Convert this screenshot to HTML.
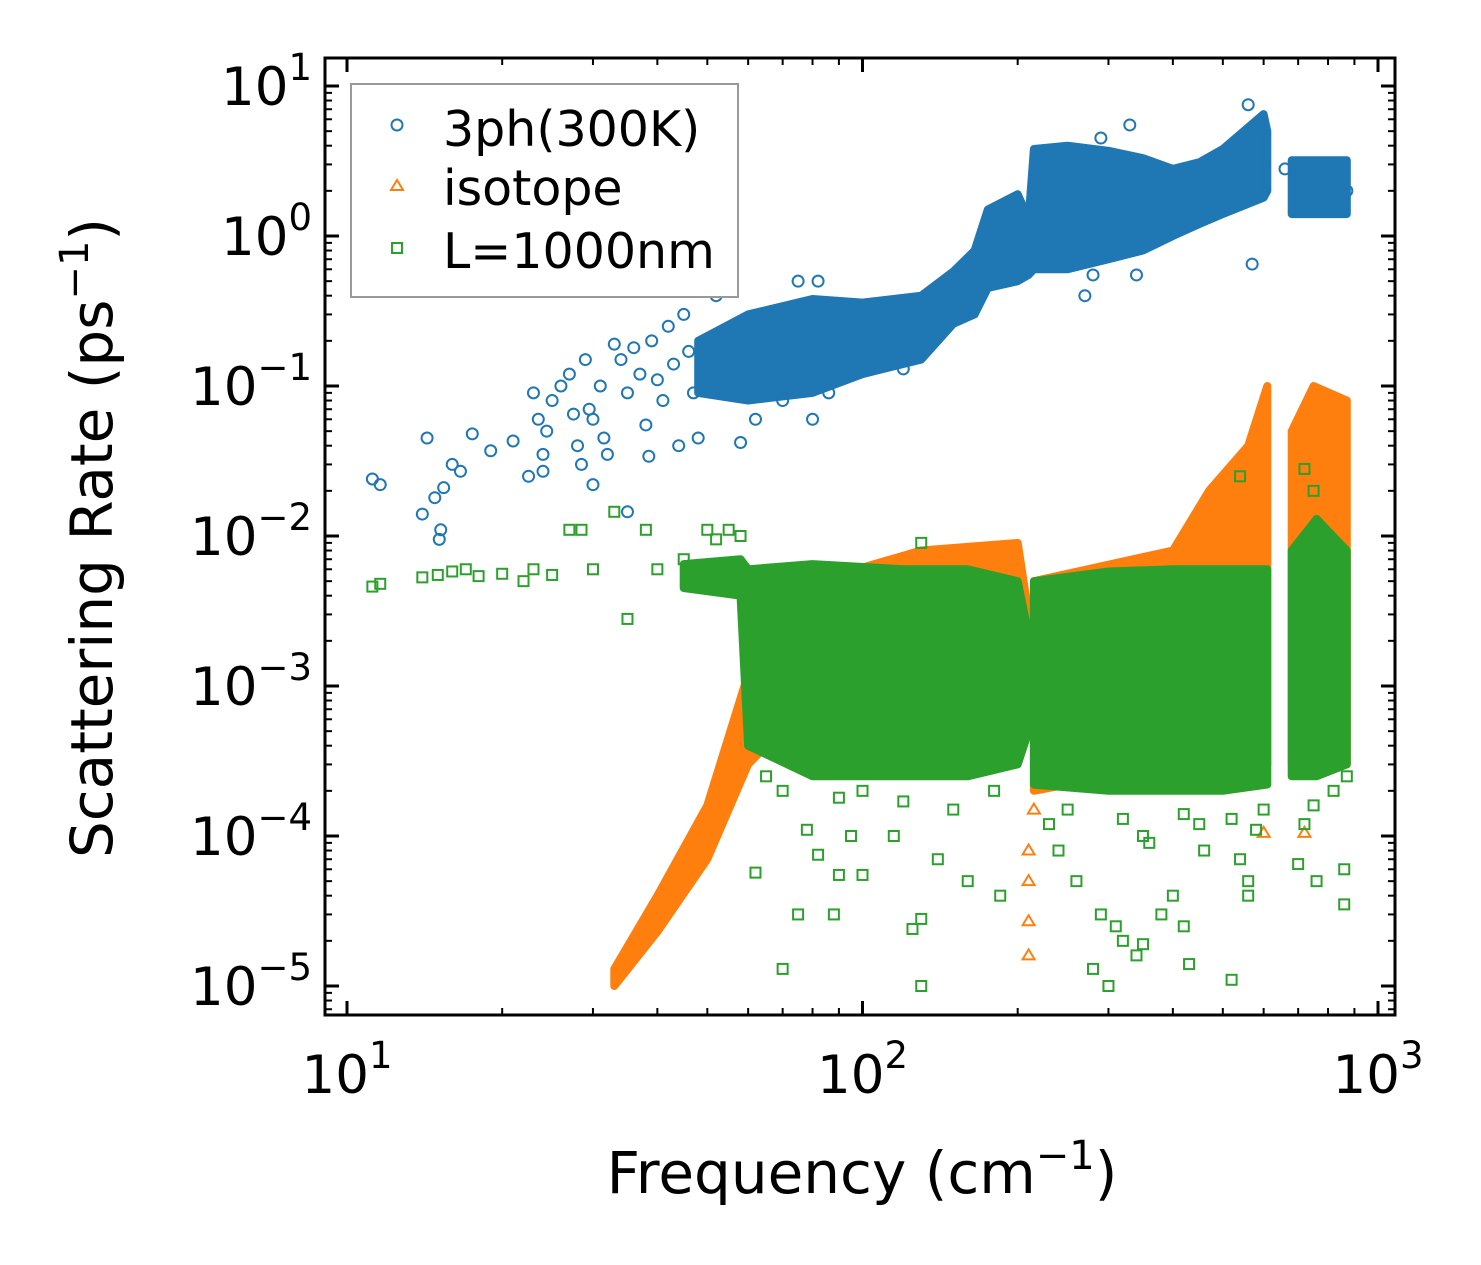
<!DOCTYPE html>
<html><head><meta charset="utf-8"><style>
html,body{margin:0;padding:0;background:#fff}
svg{display:block;font-family:"DejaVu Sans","Liberation Sans",sans-serif}
</style></head><body>
<svg id="chart" width="1481" height="1265" viewBox="0 0 1481 1265" xmlns="http://www.w3.org/2000/svg">
<g id="plot"></g>
<g id="axes"></g>
<g>
<rect x="351" y="84" width="387" height="213" fill="#fff" stroke="#999" stroke-width="2"/>
<circle cx="397" cy="125" r="5.5" fill="none" stroke="#1f77b4" stroke-width="2"/>
<text x="443" y="146" font-size="49">3ph(300K)</text>
<polygon points="397,180 391,190 403,190" fill="none" stroke="#ff7f0e" stroke-width="2"/>
<text x="443" y="205" font-size="49">isotope</text>
<rect x="392" y="243" width="10" height="10" fill="none" stroke="#2ca02c" stroke-width="2"/>
<text x="443" y="268" font-size="49">L=1000nm</text>
</g>
<text x="862" y="1193" font-size="58" text-anchor="middle">Frequency (cm<tspan dy="-24" font-size="40">−1</tspan><tspan dy="24">)</tspan></text>
<text transform="translate(112,538) rotate(-90)" font-size="58" text-anchor="middle">Scattering Rate (ps<tspan dy="-24" font-size="40">−1</tspan><tspan dy="24">)</tspan></text>
</svg>
<script>
// band data: [freq, low, high]
const blueBandA=[[48,0.09,0.20],[60,0.08,0.30],[80,0.09,0.38],[100,0.12,0.36],[130,0.15,0.40],[150,0.26,0.58],[165,0.3,0.8],[175,0.45,1.5],[200,0.5,1.9],[210,0.55,1.3],[215,0.6,3.8],[250,0.6,4.0],[300,0.7,3.7],[350,0.8,3.3],[400,1.0,2.8],[450,1.2,3.1],[500,1.4,3.8],[600,1.8,6.5],[610,2.0,5.0]];
const blueBandB=[[680,1.4,3.2],[870,1.4,3.2]];
const greenBandA=[[45,0.0045,0.0065],[58,0.004,0.007],[60,0.0004,0.006],[80,0.00025,0.0065],[120,0.00025,0.006],[160,0.00025,0.006],[200,0.0003,0.005],[210,0.0005,0.0022]];
const greenBandB=[[215,0.00022,0.005],[300,0.0002,0.0058],[400,0.0002,0.006],[500,0.0002,0.006],[610,0.00022,0.006]];
const greenBandC=[[680,0.00025,0.008],[760,0.00025,0.013],[870,0.0003,0.008]];
const orangeBandA=[[33,1.0e-5,1.3e-5],[40,2.3e-5,4e-5],[50,7e-5,1.6e-4],[60,3e-4,1.2e-3],[65,4e-4,0.004],[130,5e-4,0.008],[200,5e-4,0.009],[210,0.001,0.003]];
const orangeBandB=[[215,2e-4,0.005],[400,3e-4,0.008],[470,3e-4,0.02],[560,3e-4,0.04],[610,3e-4,0.1]];
const orangeBandC=[[680,3e-4,0.05],[750,3e-4,0.1],[870,3e-4,0.08]];
// scattered points: [freq, rate]
const bluePts=[[11.2,0.024],[11.6,0.022],[14,0.014],[14.3,0.045],[14.8,0.018],[15.2,0.011],[15.1,0.0095],[15.4,0.021],[16,0.030],[16.6,0.027],[17.5,0.048],[19,0.037],[21,0.043],[22.5,0.025],[23,0.09],[23.5,0.06],[24,0.035],[24.4,0.05],[24,0.027],[25,0.08],[26,0.10],[27,0.12],[27.5,0.065],[28,0.04],[28.5,0.03],[29,0.15],[29.5,0.07],[30,0.06],[30,0.022],[31,0.1],[31.5,0.045],[32,0.035],[33,0.19],[34,0.15],[35,0.09],[35,0.0145],[36,0.18],[37,0.12],[38,0.055],[38.5,0.034],[39,0.2],[40,0.11],[41,0.08],[42,0.25],[43,0.14],[44,0.04],[45,0.3],[46,0.17],[47,0.09],[48,0.045],[52,0.4],[55,0.45],[58,0.042],[62,0.06],[70,0.08],[75,0.5],[80,0.06],[82,0.5],[86,0.09],[120,0.13],[270,0.4],[280,0.55],[290,4.5],[330,5.5],[340,0.55],[560,7.5],[570,0.65],[660,2.8],[870,2.0]];
const greenPts=[[11.2,0.0046],[11.6,0.0048],[14,0.0053],[15,0.0055],[16,0.0058],[17,0.006],[18,0.0054],[20,0.0056],[22,0.005],[23,0.006],[25,0.0055],[27,0.011],[28.5,0.011],[30,0.006],[33,0.0145],[35,0.0028],[38,0.011],[40,0.006],[45,0.007],[50,0.011],[52,0.0095],[55,0.011],[58,0.010],[62,5.7e-5],[70,1.3e-5],[75,3e-5],[78,1.1e-4],[82,7.5e-5],[88,3e-5],[90,5.5e-5],[95,1e-4],[100,5.5e-5],[115,1e-4],[125,2.4e-5],[130,2.8e-5],[130,1e-5],[140,7e-5],[160,5e-5],[185,4e-5],[240,8e-5],[260,5e-5],[280,1.3e-5],[290,3e-5],[300,1e-5],[310,2.5e-5],[320,2e-5],[340,1.6e-5],[350,1.9e-5],[360,9e-5],[380,3e-5],[400,4e-5],[420,2.5e-5],[430,1.4e-5],[460,8e-5],[520,1.1e-5],[540,7e-5],[560,5e-5],[560,4e-5],[700,6.5e-5],[760,5e-5],[860,3.5e-5],[860,6e-5],[540,0.025],[720,0.028],[750,0.02],[130,0.009],[70,0.0002],[100,0.0002],[150,0.00015],[250,0.00015],[350,0.0001],[450,0.00012],[600,0.00015],[720,0.00012],[820,0.0002],[65,0.00025],[90,0.00018],[120,0.00017],[180,0.0002],[230,0.00012],[320,0.00013],[420,0.00014],[520,0.00013],[580,0.00011],[750,0.00016],[870,0.00025]];
const orangePts=[[210,1.6e-5],[210,2.7e-5],[210,5e-5],[210,8e-5],[600,1.05e-4],[720,1.05e-4],[215,1.5e-4]];
const xTicks=[10,100,1000];
const xTickExp=["1","2","3"];
const yTicks=[10,1,0.1,0.01,0.001,0.0001,0.00001];
const yTickExp=["1","0","−1","−2","−3","−4","−5"];

const L=325,R=1395,T=58,B=1015;
const X0=347,XD=515.5,Y0=236,YD=150;
function xs(f){return X0+XD*(Math.log10(f)-1);}
function ys(v){return Y0-YD*Math.log10(v);}
const NS="http://www.w3.org/2000/svg";
const plot=document.getElementById('plot'),axes=document.getElementById('axes');
function mk(tag,attrs,parent){const e=document.createElementNS(NS,tag);for(const k in attrs)e.setAttribute(k,attrs[k]);parent.appendChild(e);return e;}
function band(data,color,name){
  const up=data.map(d=>xs(d[0]).toFixed(1)+','+ys(d[2]).toFixed(1));
  const lo=data.slice().reverse().map(d=>xs(d[0]).toFixed(1)+','+ys(d[1]).toFixed(1));
  const p=mk('polygon',{points:up.concat(lo).join(' '),fill:color,stroke:color,'stroke-width':8,'stroke-linejoin':'round'},plot);
  
  
}
function pts(data,color,shape,name){
  data.forEach(d=>{const x=xs(d[0]),y=ys(d[1]);let e;
    if(shape==='c')e=mk('circle',{cx:x,cy:y,r:5.5,fill:'none',stroke:color,'stroke-width':2},plot);
    else if(shape==='s')e=mk('rect',{x:x-5,y:y-5,width:10,height:10,fill:'none',stroke:color,'stroke-width':2},plot);
    else e=mk('polygon',{points:`${x},${y-6} ${x-6},${y+4} ${x+6},${y+4}`,fill:'none',stroke:color,'stroke-width':2},plot);
    
    
  });
}
band(orangeBandA,'#ff7f0e','isotope-band');band(orangeBandB,'#ff7f0e','isotope-band');band(orangeBandC,'#ff7f0e','isotope-band');
pts(orangePts,'#ff7f0e','t','isotope-point');
band(greenBandA,'#2ca02c','boundary-band');band(greenBandB,'#2ca02c','boundary-band');band(greenBandC,'#2ca02c','boundary-band');
pts(greenPts,'#2ca02c','s','boundary-point');
band(blueBandA,'#1f77b4','3ph-band');band(blueBandB,'#1f77b4','3ph-band');
pts(bluePts,'#1f77b4','c','3ph-point');

const fr=mk('rect',{x:L,y:T,width:R-L,height:B-T,fill:'none',stroke:'#000','stroke-width':3},axes);


function tick(x1,y1,x2,y2,w){mk('line',{x1,y1,x2,y2,stroke:'#000','stroke-width':w},axes);}
for(let e=0;e<=3;e++){for(let m=1;m<10;m++){const f=Math.pow(10,e)*m;const x=xs(f);if(x<L||x>R)continue;
  const len=m===1?14:7,w=m===1?3:2;tick(x,B,x,B-len,w);tick(x,T,x,T+len,w);}}
xTicks.forEach((f,i)=>{const t=mk('text',{x:xs(f),y:1093,'font-size':53,'text-anchor':'middle'},axes);
  
  
  t.innerHTML='10<tspan dy="-25" font-size="37">'+xTickExp[i]+'</tspan>';});
for(let e=-6;e<=1;e++){for(let m=1;m<10;m++){const v=Math.pow(10,e)*m;const y=ys(v);if(y<T||y>B)continue;
  const len=m===1?14:7,w=m===1?3:2;tick(L,y,L+len,y,w);tick(R,y,R-len,y,w);}}
yTicks.forEach((v,i)=>{const t=mk('text',{x:312,y:ys(v)+19,'font-size':53,'text-anchor':'end'},axes);
  
  
  t.innerHTML='10<tspan dy="-25" font-size="37">'+yTickExp[i]+'</tspan>';});
</script>
</body></html>
